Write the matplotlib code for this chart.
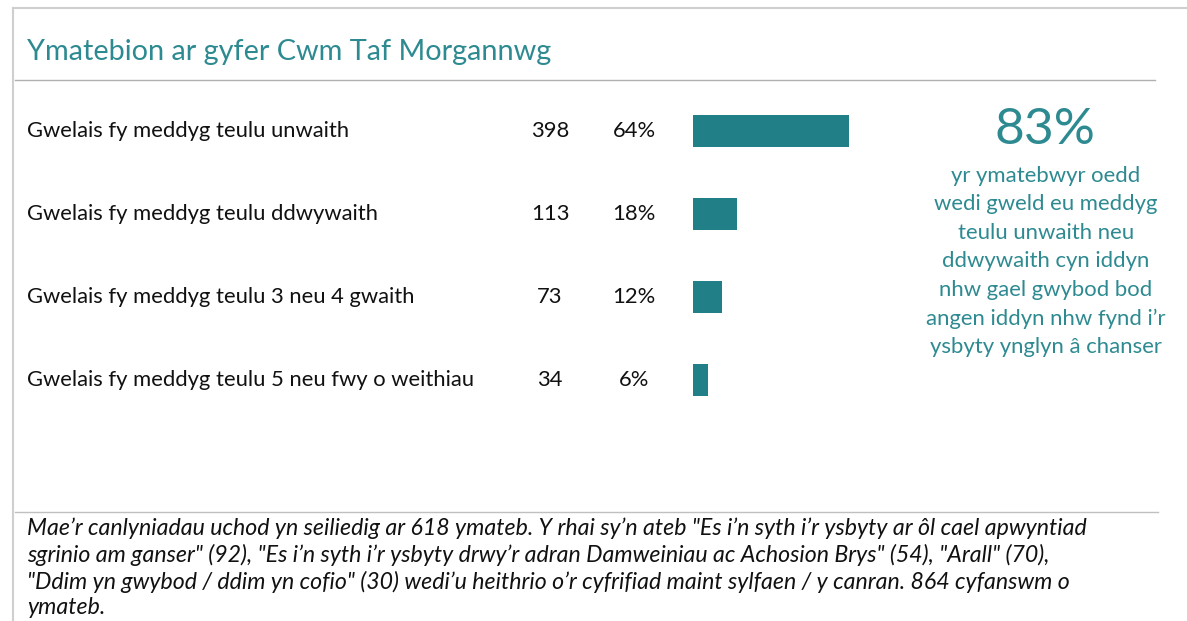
import matplotlib.pyplot as plt
import matplotlib.lines as mlines
from matplotlib.transforms import blended_transform_factory

# data
categorias = [
    'Gwelais fy meddyg teulu unwaith',
    'Gwelais fy meddyg teulu ddwywaith',
    'Gwelais fy meddyg teulu 3 neu 4 gwaith',
    'Gwelais fy meddyg teulu 5 neu fwy o weithiau',
]
ymatebion = [398, 113, 73, 34]
canrannau = [64, 18, 12, 6]

titl = 'Ymatebion ar gyfer Cwm Taf Morgannwg'
prif_ffigur = '83%'
testun_ochr = ('yr ymatebwyr oedd\nwedi gweld eu meddyg\nteulu unwaith neu\n'
               'ddwywaith cyn iddyn\nnhw gael gwybod bod\nangen iddyn nhw fynd i\u2019r\n'
               'ysbyty ynglyn \u00e2 chanser')
troednodyn = ('Mae\u2019r canlyniadau uchod yn seiliedig ar 618 ymateb. Y rhai sy\u2019n ateb "Es i\u2019n syth i\u2019r ysbyty ar \u00f4l cael apwyntiad\n'
              'sgrinio am ganser" (92), "Es i\u2019n syth i\u2019r ysbyty drwy\u2019r adran Damweiniau ac Achosion Brys" (54), "Arall" (70),\n'
              '"Ddim yn gwybod / ddim yn cofio" (30) wedi\u2019u heithrio o\u2019r cyfrifiad maint sylfaen / y canran. 864 cyfanswm o\n'
              'ymateb.')

TEAL = '#217f87'
TEAL_TXT = '#2e8a91'
W, H = 1187, 621

plt.rcParams['font.family'] = ['Lato', 'DejaVu Sans']

fig = plt.figure(figsize=(W / 100, H / 100), dpi=100)
fig.patch.set_facecolor('white')


def fx(px):
    return px / W


def fy(py):
    return 1 - py / H


# frame lines
grey = '#cfcfcf'
fig.add_artist(mlines.Line2D([fx(13), fx(13)], [fy(8), 0], color=grey, lw=1.5))
fig.add_artist(mlines.Line2D([fx(13), 1], [fy(8), fy(8)], color=grey, lw=1.5))
fig.add_artist(mlines.Line2D([fx(15), fx(1155)], [fy(80), fy(80)], color='#b0b0b0', lw=1))
fig.add_artist(mlines.Line2D([fx(15), fx(1158)], [fy(512), fy(512)], color='#c0c0c0', lw=1))

fig.text(fx(27), fy(52), titl, color=TEAL_TXT, fontsize=20.8, va='center', ha='left')

# bar axes
ax_left, ax_right = 693, 900
ax_top, ax_bot = 90, 420
ax = fig.add_axes([fx(ax_left), fy(ax_bot), (ax_right - ax_left) / W, (ax_bot - ax_top) / H])
rows = list(range(len(categorias)))
ax.barh(rows, canrannau, height=0.386, color=TEAL, left=0)
ax.set_xlim(0, (ax_right - ax_left) / 2.4375)
ax.set_ylim(3 + (ax_bot - 380) / 83, -(131 - ax_top) / 83)
ax.axis('off')

tr = blended_transform_factory(fig.transFigure, ax.transData)
for i, (cat, n, p) in enumerate(zip(categorias, ymatebion, canrannau)):
    ax.text(fx(27), i, cat, transform=tr, ha='left', va='center', fontsize=15.8, color='#111111')
    ax.text(fx(550), i, str(n), transform=tr, ha='center', va='center', fontsize=15.8, color='#111111')
    ax.text(fx(634), i, f'{p}%', transform=tr, ha='center', va='center', fontsize=15.8, color='#111111')

fig.text(fx(1045), fy(130), prif_ffigur, color=TEAL_TXT, fontsize=37, ha='center', va='center')
fig.text(fx(1046), fy(166), testun_ochr, color=TEAL_TXT, fontsize=15.9, ha='center', va='top',
         linespacing=1.53)

fig.text(fx(27), fy(517), troednodyn, fontsize=16.7, style='italic', color='#111111',
         ha='left', va='top', linespacing=1.27)

fig.savefig('out.png', dpi=100)
